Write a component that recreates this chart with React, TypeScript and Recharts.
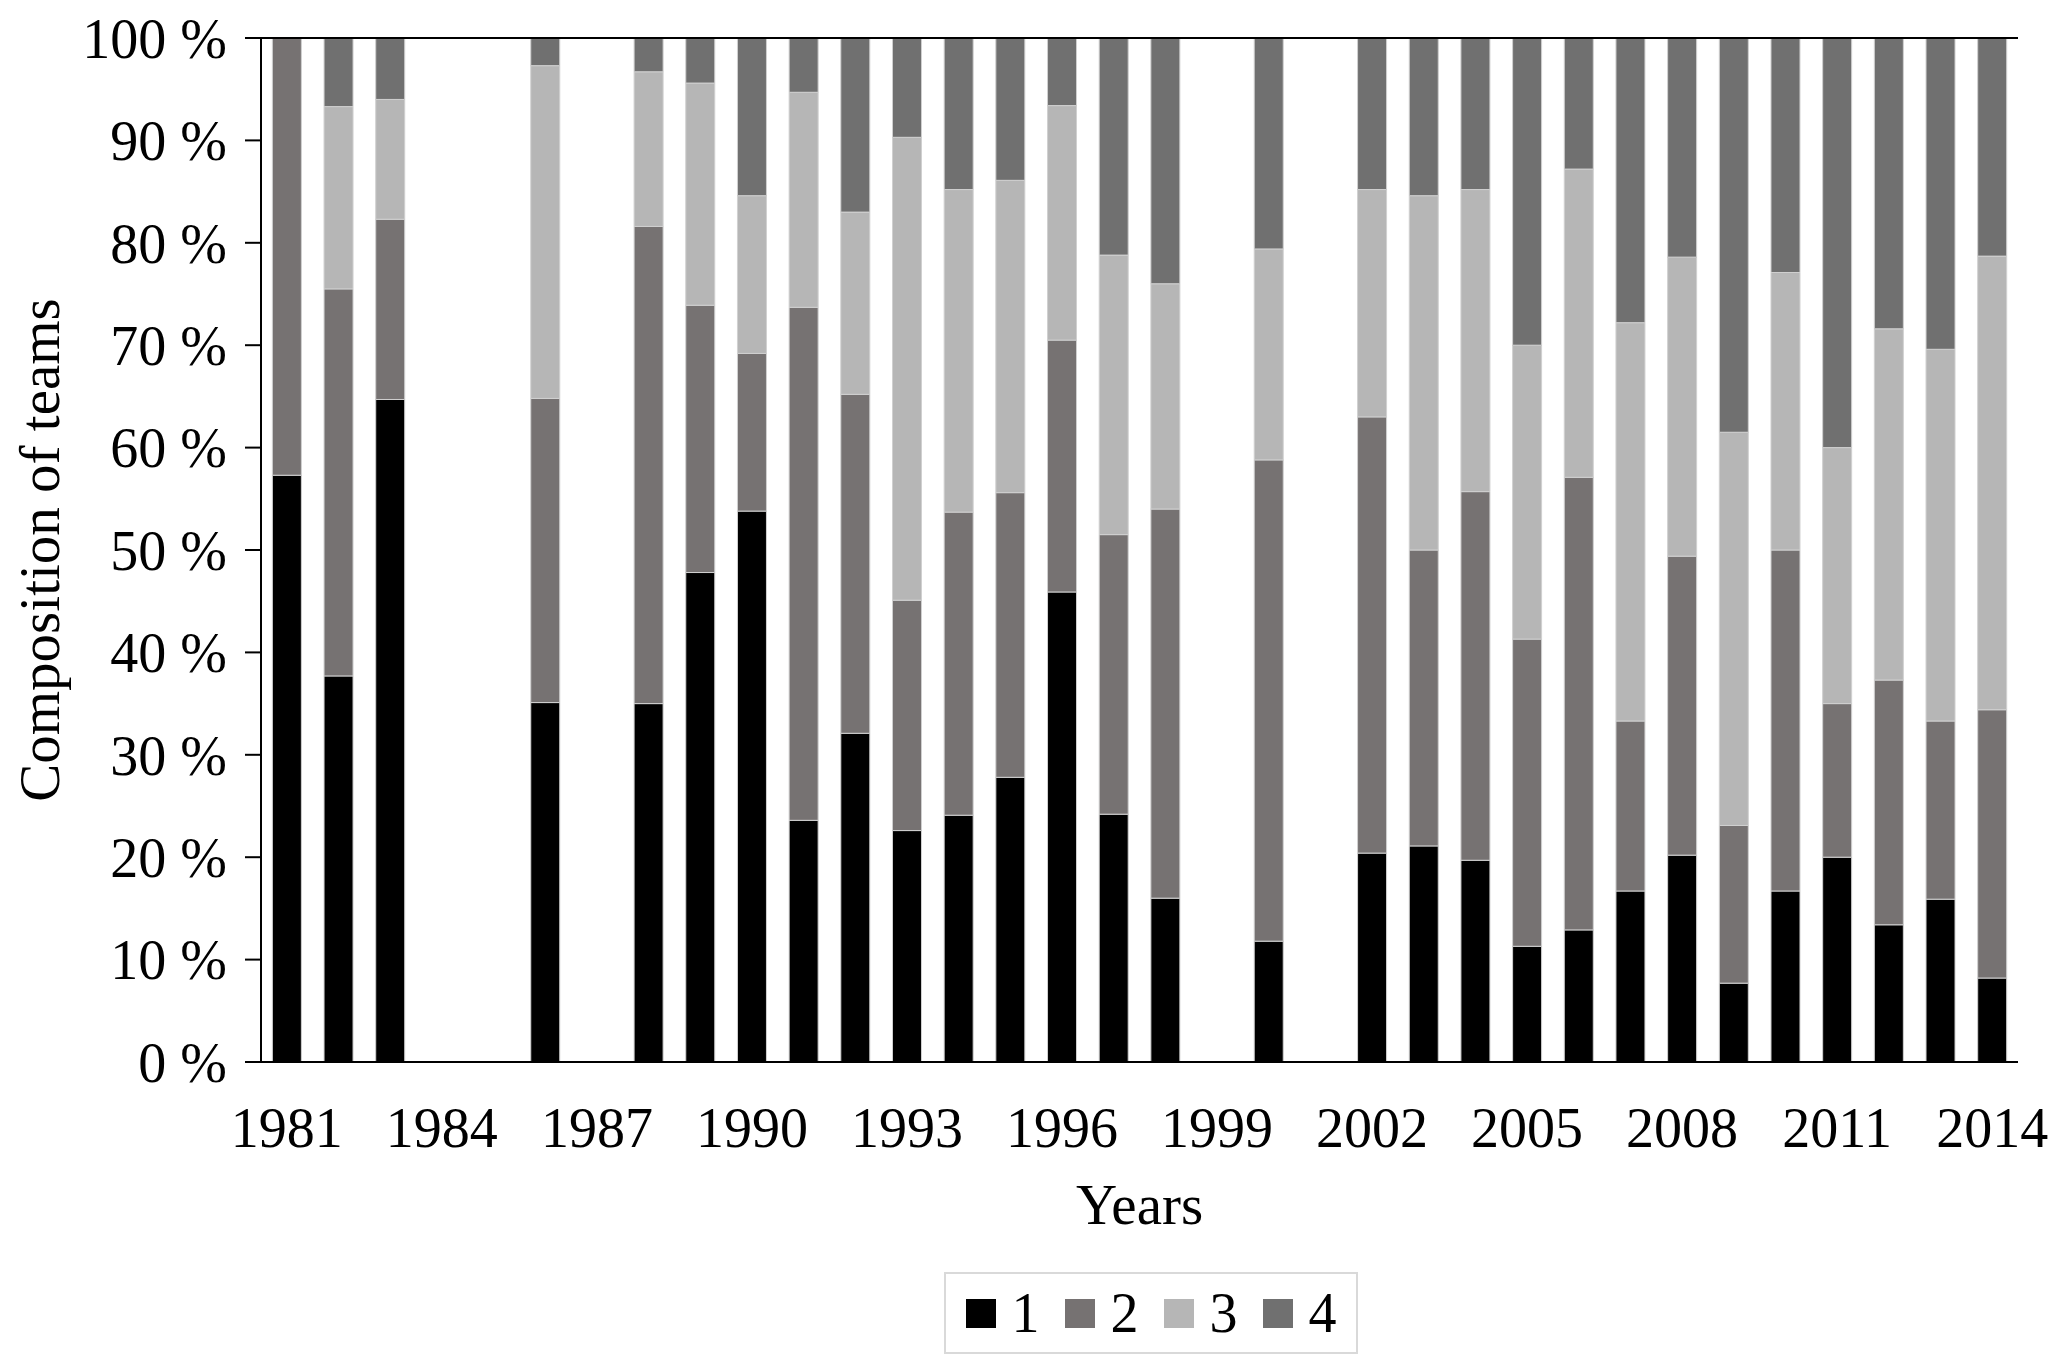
import React from 'react';
import { BarChart, Bar, XAxis, YAxis, ReferenceLine } from 'recharts';

// Years on the x axis; null = no team data that year
const years = [
  '1981', '1982', '1983', '1984', '1985', '1986', '1987', '1988', '1989', '1990',
  '1991', '1992', '1993', '1994', '1995', '1996', '1997', '1998', '1999', '2000',
  '2001', '2002', '2003', '2004', '2005', '2006', '2007', '2008', '2009', '2010',
  '2011', '2012', '2013', '2014',
];

const team1 = [
  57.3, 37.7, 64.7, null, null, 35.1, null, 35.0, 47.8, 53.8,
  23.6, 32.1, 22.6, 24.1, 27.8, 45.9, 24.2, 16.0, null, 11.8,
  null, 20.4, 21.1, 19.7, 11.3, 12.9, 16.7, 20.2, 7.7, 16.7,
  20.0, 13.4, 15.9, 8.2,
];
const team2 = [
  42.7, 37.8, 17.6, null, null, 29.7, null, 46.6, 26.1, 15.4,
  50.1, 33.1, 22.5, 29.6, 27.8, 24.6, 27.3, 38.0, null, 47.0,
  null, 42.6, 28.9, 36.0, 30.0, 44.2, 16.6, 29.2, 15.4, 33.3,
  15.0, 23.9, 17.4, 26.2,
];
const team3 = [
  0, 17.8, 11.7, null, null, 32.5, null, 15.1, 21.7, 15.4,
  21.0, 17.8, 45.2, 31.5, 30.5, 22.9, 27.3, 22.0, null, 20.6,
  null, 22.2, 34.6, 29.5, 28.7, 30.1, 38.9, 29.2, 38.4, 27.1,
  25.0, 34.3, 36.3, 44.3,
];
const team4 = [
  0, 6.7, 6.0, null, null, 2.7, null, 3.3, 4.4, 15.4,
  5.3, 17.0, 9.7, 14.8, 13.9, 6.6, 21.2, 24.0, null, 20.6,
  null, 14.8, 15.4, 14.8, 30.0, 12.8, 27.8, 21.4, 38.5, 22.9,
  40.0, 28.4, 30.4, 21.3,
];

const yTicks = [0, 10, 20, 30, 40, 50, 60, 70, 80, 90, 100];

const seriesNames = ['1', '2', '3', '4'];
const seriesColors = ['#000000', '#767272', '#b6b6b6', '#707070'];

const FONT = '"Liberation Serif", "Times New Roman", serif';

const chartData = years.map((year, i) => ({
  year,
  t1: team1[i],
  t2: team2[i],
  t3: team3[i],
  t4: team4[i],
}));

const tickStyle = { fontSize: 56, fill: '#000', fontFamily: FONT };
const titleStyle = { fontSize: 57, fill: '#000', fontFamily: FONT };

export default function App() {
  return (
    <div style={{ position: 'absolute', left: 0, top: 0, width: 2067, height: 1372, background: '#fff' }}>
      <BarChart
        width={2067}
        height={1372}
        data={chartData}
        margin={{ top: 38, right: 49, left: 21, bottom: 140 }}
        barCategoryGap="22%"
      >
        <XAxis
          dataKey="year"
          interval={2}
          tickLine={false}
          tickSize={0}
          tickMargin={45}
          height={170}
          axisLine={{ stroke: '#000', strokeWidth: 2 }}
          tick={tickStyle}
          label={{ value: 'Years', position: 'insideBottom', offset: 8, style: titleStyle }}
        />
        <YAxis
          domain={[0, 100]}
          ticks={yTicks}
          width={240}
          tickSize={16}
          tickMargin={18}
          tickLine={{ stroke: '#000', strokeWidth: 2 }}
          axisLine={{ stroke: '#000', strokeWidth: 2 }}
          tick={tickStyle}
          tickFormatter={(v) => `${v} %`}
          label={{
            value: 'Composition of teams',
            angle: -90,
            position: 'insideLeft',
            offset: 18,
            style: { ...titleStyle, textAnchor: 'middle' },
          }}
        />
        {/* right border of the plot box */}
        <YAxis
          yAxisId="right"
          orientation="right"
          domain={[0, 100]}
          width={0}
          tick={false}
          tickLine={false}
          axisLine={{ stroke: '#000', strokeWidth: 2 }}
        />
        <ReferenceLine y={100} stroke="#000" strokeWidth={2} />

        <Bar dataKey="t1" name="1" stackId="a" fill={seriesColors[0]} stroke="#d0d0d0" strokeWidth={1} isAnimationActive={false} />
        <Bar dataKey="t2" name="2" stackId="a" fill={seriesColors[1]} stroke="#d0d0d0" strokeWidth={1} isAnimationActive={false} />
        <Bar dataKey="t3" name="3" stackId="a" fill={seriesColors[2]} stroke="#d0d0d0" strokeWidth={1} isAnimationActive={false} />
        <Bar dataKey="t4" name="4" stackId="a" fill={seriesColors[3]} stroke="#d0d0d0" strokeWidth={1} isAnimationActive={false} />
      </BarChart>

      {/* legend box under the axis title */}
      <div
        style={{
          position: 'absolute',
          left: 944,
          top: 1272,
          width: 410,
          height: 78,
          border: '2px solid #d9d9d9',
          display: 'flex',
          alignItems: 'center',
          justifyContent: 'center',
          fontFamily: FONT,
          fontSize: 56,
          color: '#000',
        }}
      >
        {seriesNames.map((name, i) => (
          <div key={name} style={{ display: 'flex', alignItems: 'center', marginRight: i < 3 ? 25 : 0 }}>
            <span style={{ display: 'inline-block', width: 30, height: 29, background: seriesColors[i], marginRight: 16 }} />
            <span style={{ lineHeight: '56px' }}>{name}</span>
          </div>
        ))}
      </div>
    </div>
  );
}
